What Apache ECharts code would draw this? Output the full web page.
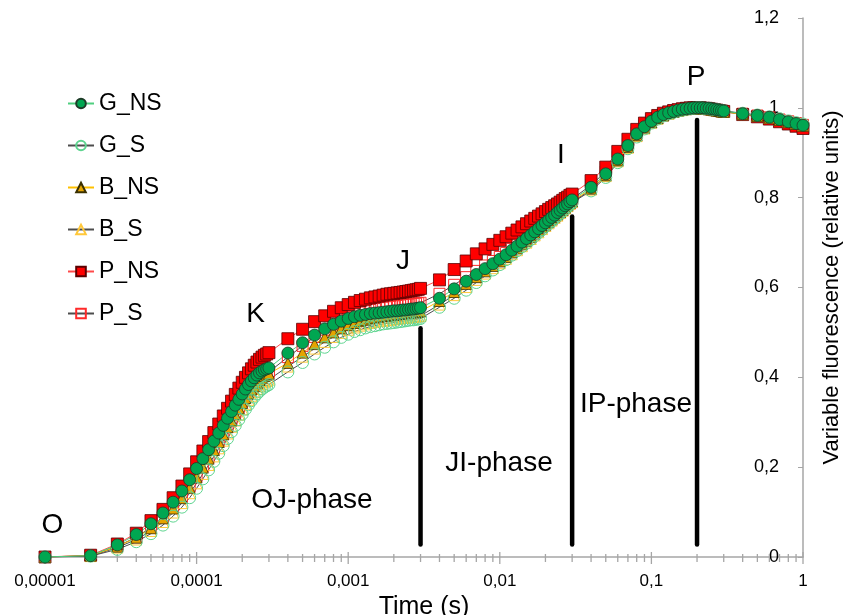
<!DOCTYPE html>
<html>
<head>
<meta charset="utf-8">
<script src="https://cdn.jsdelivr.net/npm/echarts@6/dist/echarts.min.js"></script>
<style>
html,body{margin:0;padding:0;background:#fff;}
#chart{width:856px;height:615px;}
</style>
</head>
<body>
<div id="chart"></div>
<script>
// ---- Data (time in ms) ----
const timeMs = [
  0.01,0.02,0.03,0.04,0.05,0.06,0.07,0.08,0.09,0.10,0.11,0.12,0.13,0.14,0.15,0.16,0.17,0.18,0.19,0.20,0.21,0.22,0.23,0.24,0.25,0.26,0.27,0.28,0.29,0.30,
  0.4,0.5,0.6,0.7,0.8,0.9,1.0,1.1,1.2,1.3,1.4,1.5,1.6,1.7,1.8,1.9,2.0,2.1,2.2,2.3,2.4,2.5,2.6,2.7,2.8,2.9,3.0,
  4,5,6,7,8,9,10,11,12,13,14,15,16,17,18,19,20,21,22,23,24,25,26,27,28,29,30,
  40,50,60,70,80,90,100,110,120,130,140,150,160,170,180,190,200,210,220,230,240,250,260,270,280,290,300,
  400,500,600,700,800,900,1000
];

const G_NS = [
  0,0.003,0.027,0.050,0.074,0.098,0.122,0.147,0.172,0.197,0.219,0.239,0.258,0.276,0.293,0.309,0.324,0.338,0.351,0.363,0.374,0.384,0.392,0.399,0.405,0.410,0.414,0.417,0.419,0.421,
  0.454,0.477,0.494,0.508,0.518,0.525,0.531,0.535,0.538,0.540,0.542,0.543,0.544,0.545,0.546,0.547,0.548,0.548,0.549,0.550,0.550,0.551,0.552,0.552,0.553,0.554,0.555,
  0.576,0.597,0.614,0.629,0.642,0.653,0.663,0.673,0.683,0.692,0.701,0.709,0.717,0.724,0.731,0.738,0.744,0.750,0.756,0.761,0.767,0.772,0.777,0.782,0.786,0.791,0.795,
  0.823,0.853,0.886,0.916,0.942,0.958,0.970,0.979,0.985,0.989,0.992,0.995,0.997,0.998,0.999,1.000,1.000,1.000,1.000,0.999,0.999,0.998,0.997,0.996,0.995,0.994,0.993,
  0.987,0.983,0.979,0.974,0.969,0.965,0.961
];
const G_S = [
  0,0.002,0.017,0.034,0.052,0.071,0.091,0.111,0.132,0.153,0.174,0.194,0.213,0.231,0.248,0.264,0.279,0.293,0.306,0.318,0.329,0.339,0.348,0.356,0.363,0.369,0.374,0.378,0.381,0.384,
  0.412,0.433,0.452,0.467,0.479,0.489,0.496,0.502,0.506,0.510,0.513,0.515,0.517,0.519,0.520,0.521,0.522,0.523,0.524,0.525,0.526,0.527,0.528,0.528,0.529,0.530,0.531,
  0.556,0.576,0.594,0.611,0.626,0.639,0.651,0.662,0.672,0.682,0.691,0.699,0.707,0.715,0.722,0.729,0.736,0.742,0.748,0.754,0.760,0.765,0.770,0.775,0.780,0.785,0.789,
  0.815,0.845,0.878,0.909,0.935,0.953,0.966,0.975,0.982,0.987,0.990,0.993,0.995,0.997,0.998,0.999,1.000,1.000,0.999,0.999,0.998,0.997,0.997,0.996,0.995,0.994,0.993,
  0.988,0.984,0.980,0.976,0.971,0.967,0.964
];
const B_NS = [
  0,0.003,0.023,0.043,0.064,0.086,0.108,0.131,0.154,0.177,0.199,0.219,0.238,0.256,0.273,0.289,0.304,0.318,0.331,0.343,0.354,0.364,0.373,0.381,0.388,0.394,0.399,0.403,0.406,0.408,
  0.432,0.455,0.474,0.489,0.500,0.509,0.516,0.521,0.525,0.528,0.531,0.533,0.535,0.536,0.537,0.538,0.539,0.540,0.541,0.542,0.543,0.543,0.544,0.545,0.545,0.546,0.547,
  0.570,0.590,0.608,0.623,0.636,0.648,0.658,0.668,0.678,0.687,0.696,0.704,0.712,0.720,0.727,0.734,0.740,0.746,0.752,0.758,0.763,0.768,0.773,0.778,0.783,0.788,0.792,
  0.820,0.850,0.883,0.913,0.939,0.956,0.968,0.977,0.983,0.988,0.991,0.994,0.996,0.997,0.998,0.999,0.999,0.999,0.999,0.998,0.997,0.996,0.995,0.994,0.993,0.992,0.991,
  0.986,0.982,0.978,0.973,0.968,0.964,0.960
];
const B_S = [
  0,0.002,0.021,0.039,0.058,0.078,0.099,0.120,0.142,0.164,0.185,0.205,0.224,0.242,0.259,0.275,0.290,0.304,0.317,0.329,0.340,0.350,0.359,0.367,0.374,0.380,0.385,0.389,0.392,0.395,
  0.424,0.446,0.464,0.479,0.490,0.499,0.506,0.511,0.515,0.518,0.521,0.523,0.525,0.526,0.527,0.528,0.529,0.530,0.531,0.532,0.533,0.533,0.534,0.535,0.535,0.536,0.537,
  0.562,0.583,0.601,0.617,0.631,0.643,0.654,0.664,0.674,0.683,0.692,0.700,0.708,0.716,0.723,0.730,0.737,0.743,0.749,0.755,0.760,0.766,0.771,0.776,0.781,0.786,0.790,
  0.818,0.848,0.881,0.911,0.937,0.954,0.967,0.976,0.983,0.987,0.991,0.993,0.995,0.997,0.998,0.999,0.999,0.999,0.998,0.998,0.997,0.996,0.995,0.994,0.993,0.992,0.991,
  0.986,0.982,0.978,0.973,0.969,0.965,0.961
];
const P_NS = [
  0,0.004,0.029,0.053,0.081,0.106,0.132,0.158,0.185,0.212,0.236,0.257,0.277,0.296,0.314,0.331,0.347,0.362,0.376,0.389,0.400,0.410,0.419,0.427,0.434,0.440,0.445,0.449,0.452,0.455,
  0.486,0.507,0.524,0.537,0.547,0.555,0.562,0.567,0.571,0.574,0.577,0.579,0.581,0.583,0.585,0.586,0.587,0.588,0.589,0.590,0.591,0.592,0.593,0.594,0.595,0.596,0.598,
  0.617,0.640,0.659,0.675,0.686,0.696,0.705,0.713,0.721,0.728,0.735,0.742,0.748,0.754,0.759,0.764,0.769,0.774,0.778,0.782,0.786,0.790,0.794,0.798,0.801,0.805,0.808,
  0.838,0.868,0.903,0.930,0.952,0.966,0.976,0.983,0.988,0.991,0.994,0.996,0.998,0.999,1.000,1.000,1.000,1.000,0.999,0.999,0.998,0.997,0.996,0.995,0.994,0.993,0.992,
  0.985,0.980,0.975,0.969,0.964,0.959,0.954
];
const P_S = [
  0,0.003,0.024,0.044,0.066,0.088,0.111,0.134,0.157,0.180,0.202,0.222,0.241,0.259,0.276,0.292,0.307,0.321,0.334,0.346,0.357,0.367,0.376,0.384,0.391,0.397,0.402,0.406,0.409,0.412,
  0.445,0.470,0.490,0.506,0.518,0.527,0.534,0.540,0.544,0.547,0.550,0.552,0.554,0.555,0.556,0.557,0.558,0.559,0.560,0.561,0.562,0.562,0.563,0.564,0.564,0.565,0.566,
  0.586,0.606,0.623,0.637,0.649,0.659,0.668,0.677,0.686,0.694,0.702,0.710,0.717,0.724,0.731,0.738,0.744,0.750,0.756,0.762,0.767,0.772,0.777,0.782,0.787,0.792,0.797,
  0.828,0.858,0.891,0.920,0.945,0.961,0.972,0.980,0.986,0.990,0.993,0.995,0.997,0.998,0.999,1.000,1.000,1.000,0.999,0.999,0.998,0.997,0.996,0.995,0.994,0.993,0.992,
  0.987,0.983,0.979,0.974,0.970,0.966,0.962
];

const xTickLabels = ['0,00001','0,0001','0,001','0,01','0,1','1'];
const legendNames = ['G_NS','G_S','B_NS','B_S','P_NS','P_S'];

// phase boundaries (time in s) and bar extent (relative units)
const barTimes = [0.003, 0.03, 0.2];
const barTops = [0.509, 0.758, 0.973];
const barBottom = 0.028;

// annotation labels
const annoTexts = ['O','K','J','I','P','OJ-phase','JI-phase','IP-phase'];
const annoTimes = [0.0000112, 0.000245, 0.0023, 0.0253, 0.197, 0.000577, 0.00988, 0.0791];
const annoValues = [0.071, 0.541, 0.659, 0.895, 1.067, 0.127, 0.209, 0.341];

// ---- Build ----
const FONT = 'Liberation Sans, Arial, sans-serif';
const pts = arr => arr.map((v, i) => [timeMs[i] / 1000, v]);

const minorTicks = [];
for (let d = -5; d < 0; d++) {
  for (let k = 1; k <= 9; k++) minorTicks.push([k * Math.pow(10, d), 0, k === 1 ? 1 : 0]);
}
minorTicks.push([1, 0, 1]);

const CLEAR = 'rgba(255,255,255,0)';
const mk = (name, data, symbol, size, fill, border, lineColor, bw) => ({
  name, type: 'line', data: pts(data), symbol, symbolSize: size,
  itemStyle: { color: fill, borderColor: border, borderWidth: bw },
  lineStyle: { color: lineColor, width: 1 },
  emphasis: { disabled: true }, z: 3
});

const chart = echarts.init(document.getElementById('chart'), null, { renderer: 'canvas' });
chart.setOption({
  animation: false,
  textStyle: { fontFamily: FONT },
  grid: { left: 45, right: 53, top: 18, bottom: 58, containLabel: false, outerBoundsMode: 'none' },
  legend: {
    orient: 'vertical', left: 62, top: 87, itemWidth: 26, itemHeight: 12, itemGap: 19,
    textStyle: { fontSize: 23, color: '#000', fontFamily: FONT },
    data: legendNames
  },
  xAxis: {
    type: 'log', logBase: 10, min: 0.00001, max: 1,
    axisLine: { lineStyle: { color: '#a6a6a6', width: 1.5 } },
    axisTick: { show: false },
    splitLine: { show: false },
    axisLabel: {
      margin: 16, fontSize: 17, color: '#000', fontFamily: FONT,
      formatter: v => xTickLabels[Math.round(Math.log10(v)) + 5]
    },
    name: 'Time (s)', nameLocation: 'middle', nameGap: 32,
    nameTextStyle: { fontSize: 25, color: '#000', fontFamily: FONT }
  },
  yAxis: {
    type: 'value', position: 'right', min: 0, max: 1.2, interval: 0.2,
    axisLine: { show: true, lineStyle: { color: '#a6a6a6', width: 1.5 } },
    axisTick: { show: true, inside: true, length: 5, lineStyle: { color: '#a6a6a6' } },
    splitLine: { show: false },
    axisLabel: {
      inside: true, margin: 24, fontSize: 18, color: '#000', fontFamily: FONT,
      formatter: v => String(+(+v).toFixed(1)).replace('.', ',')
    },
    name: 'Variable fluorescence (relative units)', nameLocation: 'middle', nameRotate: 90, nameGap: 18,
    nameTextStyle: { fontSize: 22, color: '#000', fontFamily: FONT }
  },
  series: [
    {
      type: 'custom', name: 'ticks', silent: true, z: 1,
      data: minorTicks,
      renderItem: (params, api) => {
        const p = api.coord([api.value(0), 0]);
        const major = api.value(2) === 1;
        return { type: 'line', shape: { x1: p[0], y1: p[1] - (major ? 5 : 3), x2: p[0], y2: p[1] + (major ? 7 : 5) },
          style: { stroke: '#a6a6a6', lineWidth: 1.3 } };
      }
    },
    {
      type: 'custom', name: 'bars', silent: true, z: 2,
      data: barTimes.map((t, i) => [t, barBottom, barTops[i]]),
      renderItem: (params, api) => {
        const a = api.coord([api.value(0), api.value(1)]);
        const b = api.coord([api.value(0), api.value(2)]);
        return { type: 'line', shape: { x1: a[0], y1: a[1], x2: b[0], y2: b[1] },
          style: { stroke: '#000', lineWidth: 4.5, lineCap: 'round' } };
      }
    },
    mk('P_S', P_S, 'rect', 11, CLEAR, '#ff2a2a', '#4d4d4d', 1),
    mk('P_NS', P_NS, 'rect', 12, '#ff0000', '#5a0000', '#ff4a4a', 0.8),
    mk('B_S', B_S, 'triangle', 11, CLEAR, '#ffc83a', '#4d4d4d', 1),
    mk('B_NS', B_NS, 'triangle', 11, '#e6a400', '#3a3000', '#ffc000', 0.8),
    mk('G_S', G_S, 'circle', 12, CLEAR, '#5ed48f', '#4d4d4d', 1),
    mk('G_NS', G_NS, 'circle', 12, '#00a651', '#1d3b27', '#4fcf7f', 0.8),
    {
      type: 'scatter', name: 'labels', silent: true, z: 5,
      symbolSize: 1, itemStyle: { color: CLEAR, opacity: 1 },
      data: annoTexts.map((s, i) => ({ name: s, value: [annoTimes[i], annoValues[i]] })),
      label: { show: true, position: 'inside', formatter: '{b}', fontSize: 28, color: '#000', opacity: 1, fontFamily: FONT }
    }
  ]
});
</script>
</body>
</html>
